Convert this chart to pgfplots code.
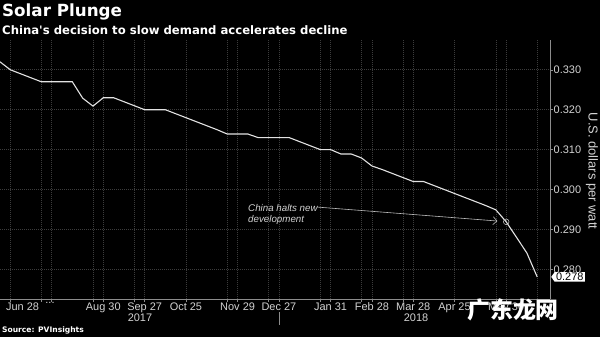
\documentclass[border=0pt]{standalone}
\usepackage{fontspec}
\setmainfont{Liberation Sans}
\newfontfamily\titlefont{DejaVu Sans}
\newfontfamily\cjk{Noto Sans CJK SC}
\usepackage{pgfplots}
\pgfplotsset{compat=1.18}
\usetikzlibrary{arrows.meta,shapes.symbols}
\definecolor{gridc}{HTML}{3C3C3C}
\definecolor{lbl}{HTML}{D2D2D2}
\definecolor{lnc}{HTML}{E2E2E2}
\definecolor{axc}{HTML}{8C8C8C}
\begin{document}
\begin{tikzpicture}
\path[use as bounding box, fill=black] (0,0) rectangle (600bp,337bp);
\node[anchor=base west, inner sep=0, text=white, font=\titlefont\bfseries\fontsize{16.8}{20}\selectfont] at (2bp,320bp) {Solar Plunge};
\node[anchor=base west, inner sep=0, text=white, font=\titlefont\bfseries\fontsize{11.7}{14}\selectfont] at (2bp,302bp) {China's decision to slow demand accelerates decline};
\begin{axis}[
  at={(0bp,38bp)}, anchor=south west, scale only axis,
  width=550bp, height=259bp,
  xmin=0, xmax=53.24, ymin=0.27256, ymax=0.33747,
  axis x line*=bottom, axis y line*=right,
  axis line style={axc, line width=0.8bp},
  xtick={1,4,5,9,10,13,14,18,22,23,26,27,31,32,35,36,39,40,44,48,49,52},
  xticklabels={},
  xmajorgrids, ymajorgrids,
  grid style={gridc, line width=0.7bp, dash pattern=on 1bp off 1bp},
  ytick={0.28,0.29,0.30,0.31,0.32,0.33},
  yticklabels={0.280,0.290,0.300,0.310,0.320,0.330},
  yticklabel pos=right,
  y tick label style={text=lbl, font=\fontsize{11}{12}\selectfont, inner xsep=1bp},
  tick style={axc, line width=0.6bp},
  major tick length=2.5bp,
  tick align=outside,
  extra x ticks={2.18,4.84,10,14,18,23,27,32,36,40,44,49},
  extra x tick labels={Jun 28,.{}.{}.,Aug 30,Sep 27,Oct 25,Nov 29,Dec 27,Jan 31,Feb 28,Mar 28,Apr 25,May 30},
  extra x tick style={grid=none, major tick length=0pt,
    tick label style={text=lbl, font=\fontsize{11}{12}\selectfont}},
  clip=false,
]
\addplot[lnc, line width=1.1bp, no marks] coordinates {
(0,0.3320) (1,0.3300) (2,0.3290) (3,0.3280) (4,0.3270) (5,0.3270) (6,0.3270) (7,0.3270)
(8,0.3229) (9,0.3209) (10,0.3230) (11,0.3230) (12,0.3220) (13,0.3210) (14,0.3200)
(15,0.3200) (16,0.3200) (17,0.3190) (18,0.3180) (19,0.3170) (20,0.3160) (21,0.3150)
(22,0.3139) (23,0.3139) (24,0.3139) (25,0.3130) (26,0.3130) (27,0.3130) (28,0.3130)
(29,0.3120) (30,0.3110) (31,0.3100) (32,0.3100) (33,0.3089) (34,0.3089) (35,0.3079)
(36,0.3059) (37,0.3050) (38,0.3040) (39,0.3030) (40,0.3020) (41,0.3020) (42,0.3010)
(43,0.3000) (44,0.2990) (45,0.2980) (46,0.2970) (47,0.2960) (48,0.2949) (49,0.2919)
(50,0.2880) (51,0.2841) (52,0.2781)
};
\addplot[only marks, mark=o, mark size=2.8bp, mark options={color=lbl!70!gray, line width=0.6bp}] coordinates {(49,0.2919)};
\draw[-{Straight Barb[length=4bp,width=8bp]}, color=lbl!75!gray, line width=0.6bp] (axis cs:30.7,0.2956) -- (axis cs:48.15,0.2921);
\node[signal, signal to=west, signal pointer angle=110, anchor=west, fill=white, text=black, inner xsep=1.5bp, inner ysep=0.8bp, font=\fontsize{11}{12}\selectfont] at (axis cs:53.24,0.2781) [xshift=1bp] {0.278};
\end{axis}
\node[anchor=north west, align=left, text=lbl, font=\itshape\fontsize{9.8}{11}\selectfont, inner sep=0] at (248bp,133bp) {China halts new\\development};
\node[rotate=-90, text=lbl, font=\fontsize{13}{14}\selectfont] at (592bp,166bp) {U.S. dollars per watt};
\node[text=lbl, font=\fontsize{11}{12}\selectfont] at (140bp,19bp) {2017};
\node[text=lbl, font=\fontsize{11}{12}\selectfont] at (416bp,19bp) {2018};
\draw[axc, line width=0.6bp] (279bp,25bp) -- (279bp,12bp);
\node[anchor=base west, inner sep=0, text=white, font=\titlefont\bfseries\fontsize{7.6}{9}\selectfont] at (2bp,5bp) {Source: PVInsights};
\node[text=white, font=\cjk\bfseries\fontsize{23}{25}\selectfont] at (513bp,27bp) {广东龙网};
\end{tikzpicture}
\end{document}
